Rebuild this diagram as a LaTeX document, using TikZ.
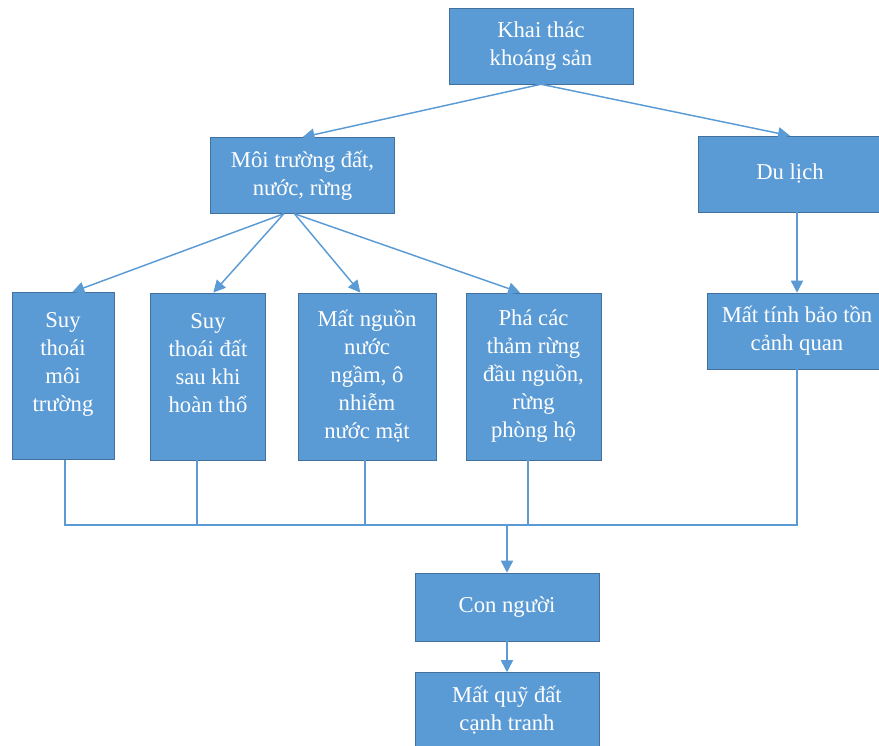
\documentclass[tikz,border=0pt]{standalone}
\usepackage{fontspec}
\setmainfont{Liberation Serif}
\usepackage{xcolor}
\usetikzlibrary{arrows.meta}
\definecolor{boxblue}{HTML}{5B9BD5}
\definecolor{boxedge}{HTML}{41719C}

\begin{document}
\begin{tikzpicture}[x=0.75pt,y=-0.75pt,
    box/.style={draw=boxedge,fill=boxblue,text=white,align=center,inner sep=0pt,
      font=\fontsize{17}{21}\selectfont},
    wide/.style={box,minimum width=138pt,minimum height=57pt},
    tall/.style={box,minimum height=125.5pt},
    link/.style={boxblue,line width=1.1pt},
    arr/.style={link,-{Triangle[length=9pt,width=9pt]}}]
  \useasboundingbox (0,0) rectangle (879,746);
  \clip (0,0) rectangle (879,746);
  % Top level
  \node[wide] (khai) at (541,46) {Khai thác\\khoáng sản};
  \node[wide] (moi) at (302.5,175.5) {Môi trường đất,\\nước, rừng};
  \node[wide] (du) at (790,174) {Du lịch};
  % Effects on the environment
  \node[tall,minimum width=76.5pt] (b1) at (63,376) {Suy\\thoái\\môi\\trường\\\mbox{}};
  \node[tall,minimum width=86.25pt] (b2) at (208,376.5) {Suy\\thoái đất\\sau khi\\hoàn thổ\\\mbox{}};
  \node[tall,minimum width=103.5pt] (b3) at (367,376.5) {Mất nguồn\\nước\\ngầm, ô\\nhiễm\\nước mặt};
  \node[tall,minimum width=101.25pt] (b4) at (533.5,376.5) {Phá các\\thảm rừng\\đầu nguồn,\\rừng\\phòng hộ};
  \node[wide,minimum width=135pt] (mat) at (797,331) {Mất tính bảo tồn\\cảnh quan};
  % Bottom
  \node[wide,minimum height=51pt] (con) at (507,607) {Con người};
  \node[wide] (quy) at (507,710.5) {Mất quỹ đất\\cạnh tranh};
  % Arrows from the top
  \draw[arr] (khai.south) -- (moi.north);
  \draw[arr] (khai.south) -- (du.north);
  \coordinate (ml) at ([xshift=-14pt]moi.south);
  \coordinate (mr) at ([xshift=-6pt]moi.south);
  \draw[arr] (ml) -- ([xshift=7pt]b1.north);
  \draw[arr] (ml) -- ([xshift=4pt]b2.north);
  \draw[arr] (mr) -- ([xshift=-5pt]b3.north);
  \draw[arr] (mr) -- ([xshift=-10pt]b4.north);
  \draw[arr] (du.south -| mat.north) -- (mat.north);
  % Collecting line
  \coordinate (bus) at (0,525);
  \draw[link] ([xshift=1.5pt]b1.south) -- ([xshift=1.5pt]b1.south |- bus) -- (mat.south |- bus) -- (mat.south);
  \draw[link] ([xshift=-8.3pt]b2.south) -- ([xshift=-8.3pt]b2.south |- bus);
  \draw[link] ([xshift=-1.5pt]b3.south) -- ([xshift=-1.5pt]b3.south |- bus);
  \draw[link] ([xshift=-4.125pt]b4.south) -- ([xshift=-4.125pt]b4.south |- bus);
  \draw[arr] (con.north |- bus) -- (con.north);
  \draw[arr] (con.south) -- (quy.north);
\end{tikzpicture}
\end{document}
